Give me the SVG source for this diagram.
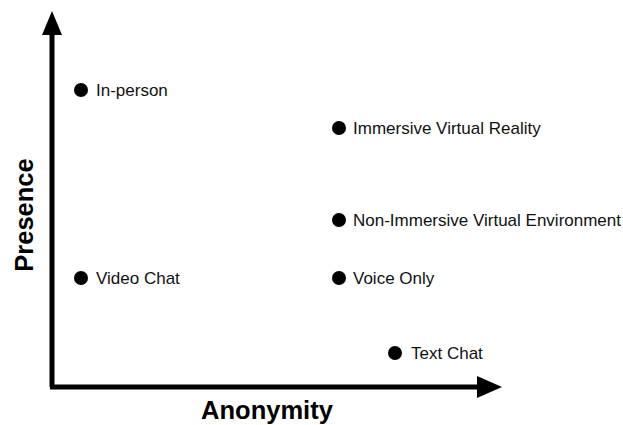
<svg xmlns="http://www.w3.org/2000/svg" width="623" height="425" viewBox="0 0 623 425">
  <style>
    .axis { stroke: #000; stroke-width: 5; fill: none; }
    .dot { fill: #000; }
    .lbl { font-family: "Liberation Sans", Arial, sans-serif; font-size: 17px; fill: #111; }
    .title { font-family: "Liberation Sans", Arial, sans-serif; font-size: 25.5px; font-weight: bold; fill: #000; }
  </style>
  <rect width="623" height="425" fill="#fff"/>

  <!-- axes -->
  <g id="connectors">
    <path class="axis" d="M52,387 V34"/>
    <path class="axis" d="M50,387 H478"/>
    <polygon points="52,11 42,35 62,35" fill="#000"/>
    <polygon points="502,387 477,376 477,398" fill="#000"/>
  </g>

  <text class="title" x="267" y="419" text-anchor="middle">Anonymity</text>
  <text class="title" transform="translate(33,215) rotate(-90)" text-anchor="middle">Presence</text>

  <g id="in-person">
    <circle class="dot" cx="81" cy="90" r="7"/>
    <text class="lbl" x="96" y="96">In-person</text>
  </g>
  <g id="immersive-vr">
    <circle class="dot" cx="339" cy="128" r="7"/>
    <text class="lbl" x="353" y="134">Immersive Virtual Reality</text>
  </g>
  <g id="non-immersive-ve">
    <circle class="dot" cx="339" cy="220" r="7"/>
    <text class="lbl" x="353" y="226">Non-Immersive Virtual Environment</text>
  </g>
  <g id="video-chat">
    <circle class="dot" cx="81" cy="278" r="7"/>
    <text class="lbl" x="96" y="284">Video Chat</text>
  </g>
  <g id="voice-only">
    <circle class="dot" cx="339" cy="278" r="7"/>
    <text class="lbl" x="353" y="284">Voice Only</text>
  </g>
  <g id="text-chat">
    <circle class="dot" cx="395" cy="353" r="7"/>
    <text class="lbl" x="411" y="359">Text Chat</text>
  </g>
</svg>
